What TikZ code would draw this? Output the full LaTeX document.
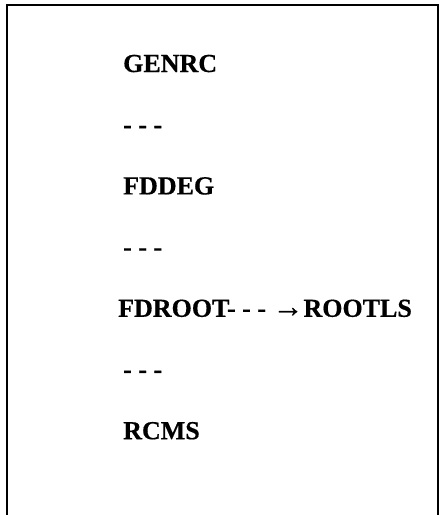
\documentclass[tikz,border=0pt]{standalone}
\usepackage{fontspec}
\setmainfont[BoldFeatures={FakeBold=0.5}]{Liberation Serif}
\usetikzlibrary{positioning}
\tikzset{every node/.style={font=\fontsize{26}{30}\selectfont\bfseries, inner sep=0pt, anchor=base west}}
\tikzset{frame/.style={line width=2pt, draw=black}}
\newcommand{\bigarrow}{{\fontsize{31}{30}\selectfont →}}

\begin{document}
\begin{tikzpicture}[x=1pt, y=1pt]
\useasboundingbox (0,0) rectangle (440,-515);
\draw[frame] (6.5,-515) -- (6.5,-5) -- (438,-5) -- (438,-515);
\node (genrc) at (123,-72) {GENRC};
\node (dotsA) [below=61.2pt of genrc.base west, anchor=base west] {- - -};
\node (fddeg) [below=61.2pt of dotsA.base west, anchor=base west] {FDDEG};
\node (dotsB) [below=61.2pt of fddeg.base west, anchor=base west] {- - -};
\node (fdroot) [below=61.2pt of dotsB.base west, anchor=base west, xshift=-5pt] {FDROOT- - - \bigarrow ROOTLS};
\node (dotsC) [below=61.2pt of dotsB.base west, anchor=base west, yshift=-61.2pt] {- - -};
\node (rcms) [below=61.2pt of dotsC.base west, anchor=base west] {RCMS};
\end{tikzpicture}
\end{document}
